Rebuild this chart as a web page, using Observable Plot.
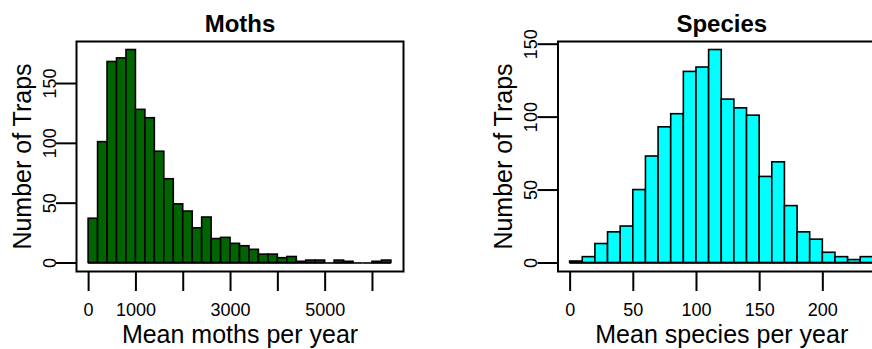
<!DOCTYPE html>
<html><head><meta charset="utf-8">
<script src="https://cdn.jsdelivr.net/npm/d3@7"></script>
<script src="https://cdn.jsdelivr.net/npm/@observablehq/plot@0.6"></script>
<style>
html,body{margin:0;padding:0;overflow:hidden;background:#fff;}
#wrap{position:relative;width:872px;height:349px;overflow:hidden;}
#left{position:absolute;left:0;top:0;width:436px;}
#right{position:absolute;left:436px;top:0;width:460px;}
svg{display:block;max-width:none !important;}
</style></head><body><div id="wrap"><div id="left"></div><div id="right"></div></div>
<script>
// Moths histogram (bin breaks and counts)
const mothBreaks = [0,200,400,600,800,1000,1200,1400,1600,1800,2000,2200,2400,2600,2800,3000,3200,3400,3600,3800,4000,4200,4400,4600,4800,5000,5200,5400,5600,5800,6000,6200,6400];
const mothCounts = [37,101,168,171,178,128,121,93,70,49,43,29,38,20,21,16,14,11,7,7,4,5,1,2,2,0,2,1,0,0,1,2];
const mothXTicks = [0,1000,2000,3000,4000,5000,6000];
const mothXTickLabels = ["0","1000","","3000","","5000",""];

// Species histogram
const speciesBreaks = [0,10,20,30,40,50,60,70,80,90,100,110,120,130,140,150,160,170,180,190,200,210,220,230,240];
const speciesCounts = [1,4,13,21,25,50,73,93,102,131,134,146,112,106,101,59,69,39,21,16,7,4,2,4];
const speciesXTicks = [0,50,100,150,200];
const speciesXTickLabels = ["0","50","100","150","200"];

const yTicksMoths = [0,50,100,150];
const yTicksSpecies = [0,50,100,150];

const FONT = "'Liberation Sans', Arial, Helvetica, sans-serif";

function rRange(lo, hi) { const d = (hi - lo) * 0.04; return [lo - d, hi + d]; }

function histPanel({breaks, counts, fill, xTicks, xTickLabels, yTicks, title, xLabel, width, marginLeft, marginRight}) {
  const bins = counts.map((c, i) => ({x1: breaks[i], x2: breaks[i + 1], count: c}));
  const xDomain = rRange(breaks[0], breaks[breaks.length - 1]);
  const yDomain = rRange(0, d3.max(counts));
  return Plot.plot({
    width, height: 349, marginLeft, marginRight, marginTop: 41, marginBottom: 78,
    x: {domain: xDomain},
    y: {domain: yDomain},
    style: {fontFamily: FONT, color: "#000", background: "#fff", overflow: "visible", maxWidth: "none"},
    marks: [
      Plot.rectY(bins, {x1: "x1", x2: "x2", y1: 0, y2: "count", fill, stroke: "#000", strokeWidth: 1.6, insetLeft: 0, insetRight: 0}),
      Plot.ruleY(bins, {x1: "x1", x2: "x2", y: 0, stroke: "#000", strokeWidth: 1.6}),
      Plot.frame({stroke: "#000", strokeWidth: 2}),
      Plot.axisX({ticks: xTicks, tickSize: 20, tickPadding: 12, fontSize: 18, strokeWidth: 2,
        tickFormat: (d) => xTickLabels[xTicks.indexOf(d)], label: null}),
      // y tick marks (horizontal)
      Plot.axisY({ticks: yTicks, tickSize: 20, strokeWidth: 2, tickFormat: () => "", label: null}),
      // y tick labels, parallel to the axis
      Plot.axisY({ticks: yTicks, tickSize: 0, tickPadding: 26.5, fontSize: 18,
        rotate: -90, textAnchor: "middle", tickFormat: (d) => String(d), label: null}),
      Plot.text([title], {frameAnchor: "top", dy: -10, lineAnchor: "bottom", fontSize: 24, fontWeight: "bold"}),
      Plot.text([xLabel], {frameAnchor: "bottom", dy: 71, lineAnchor: "bottom", fontSize: 25}),
      Plot.text(["Number of Traps"], {frameAnchor: "left", dx: -54, rotate: -90, textAnchor: "middle", lineAnchor: "middle", fontSize: 25})
    ]
  });
}

document.getElementById("left").append(histPanel({
  breaks: mothBreaks, counts: mothCounts, fill: "#006400",
  xTicks: mothXTicks, xTickLabels: mothXTickLabels, yTicks: yTicksMoths,
  title: "Moths", xLabel: "Mean moths per year",
  width: 436, marginLeft: 76, marginRight: 33
}));

document.getElementById("right").append(histPanel({
  breaks: speciesBreaks, counts: speciesCounts, fill: "#00FFFF",
  xTicks: speciesXTicks, xTickLabels: speciesXTickLabels, yTicks: yTicksSpecies,
  title: "Species", xLabel: "Mean species per year",
  width: 460, marginLeft: 121.5, marginRight: 11
}));
</script></body></html>
